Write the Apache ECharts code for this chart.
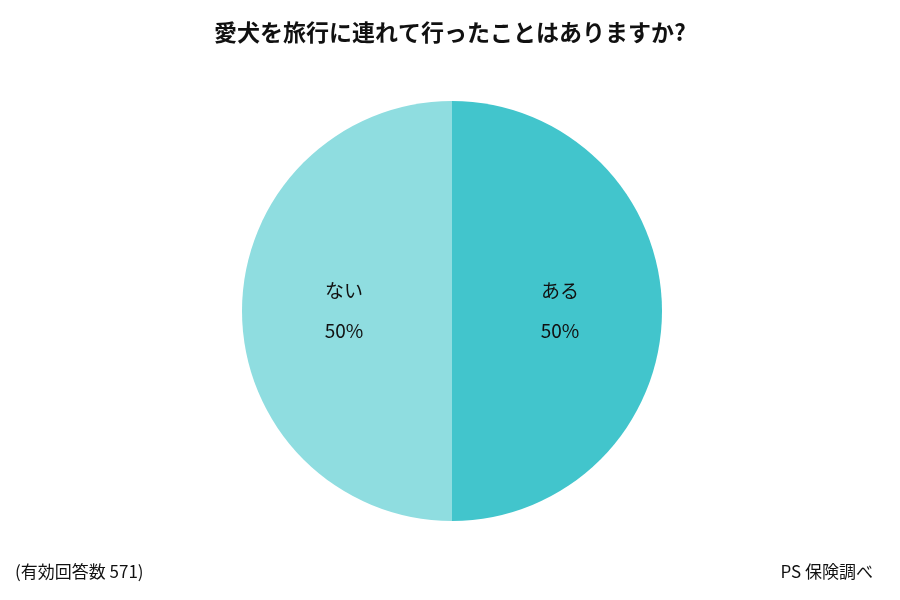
<!DOCTYPE html>
<html><head><meta charset="utf-8">
<script src="https://cdn.jsdelivr.net/npm/echarts@6/dist/echarts.min.js"></script>
<style>html,body{margin:0;padding:0;background:#fff}#c{width:900px;height:600px}</style>
</head><body><div id="c"></div>
<script>
var categories = ['ある', 'ない'];
var values = [50, 50];
var colors = ['#42C5CC', '#8FDDE0'];
var chart = echarts.init(document.getElementById('c'));
var font = '"Noto Sans CJK JP", "Noto Sans", sans-serif';
chart.setOption({
  animation: false,
  title: [
    {text: '愛犬を旅行に連れて行ったことはありますか?', left: 'center', top: 16,
     textStyle: {fontFamily: font, fontSize: 23, fontWeight: 'bold', color: '#111'}},
    {text: '(有効回答数 571)', left: 10, top: 558,
     textStyle: {fontFamily: font, fontSize: 17, fontWeight: 'normal', color: '#111'}},
    {text: 'PS 保険調べ', right: 22, top: 558,
     textStyle: {fontFamily: font, fontSize: 17, fontWeight: 'normal', color: '#111'}}
  ],
  series: [{
    type: 'pie', center: [452, 311], radius: 210, startAngle: 90, clockwise: true,
    data: categories.map(function (c, i) { return {name: c, value: values[i], itemStyle: {color: colors[i]}}; }),
    label: {position: 'inside', formatter: '{b}\n\n{d}%', fontFamily: font, fontSize: 19, color: '#111', lineHeight: 20},
    labelLine: {show: false},
    emphasis: {disabled: true}
  }]
});
</script></body></html>
